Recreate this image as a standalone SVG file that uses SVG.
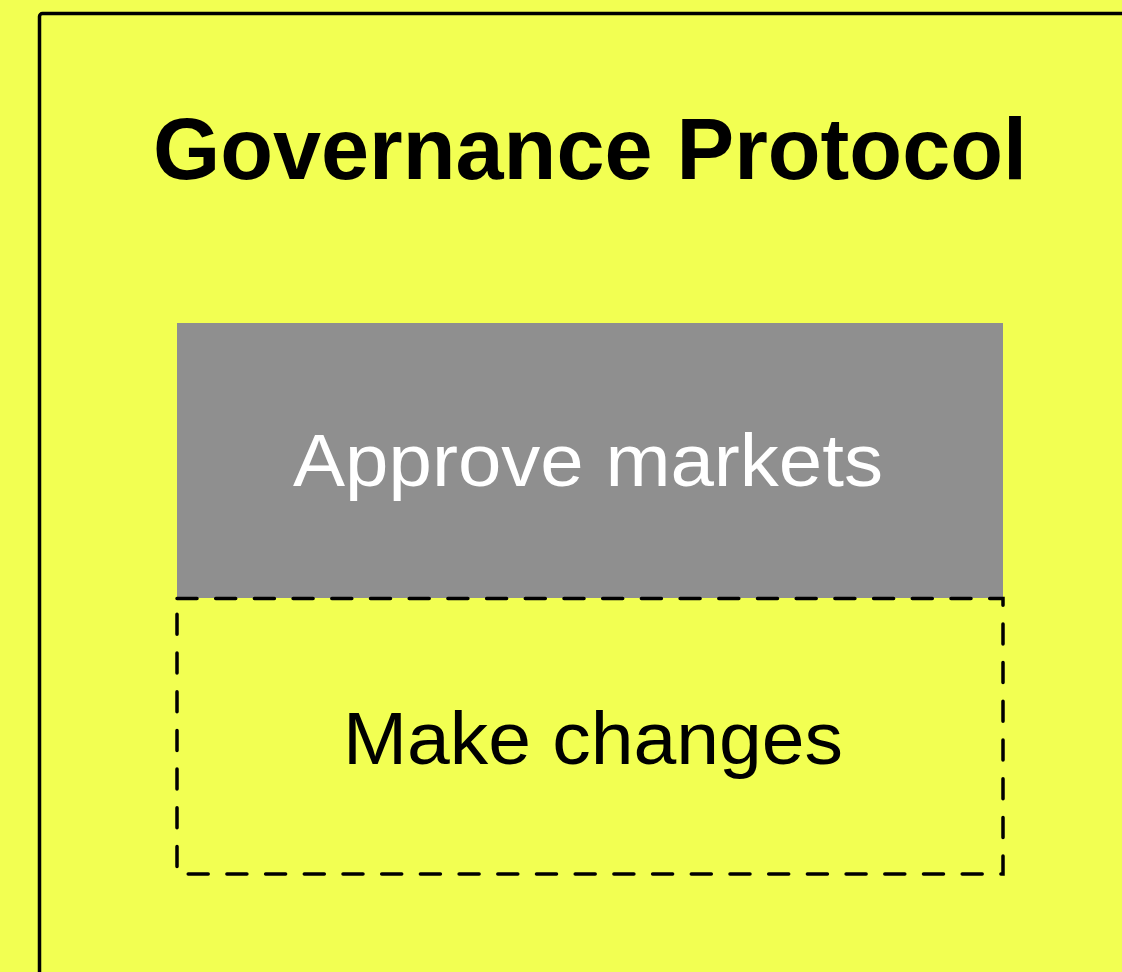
<svg xmlns="http://www.w3.org/2000/svg" width="1122" height="972" viewBox="0 0 1122 972">
  <style>
    .title { font-family: "Liberation Sans", Arial, sans-serif; font-weight: bold; font-size: 87px; fill: #000; }
    .label { font-family: "Liberation Sans", Arial, sans-serif; font-size: 75px; }
  </style>
  <rect x="0" y="0" width="1122" height="972" fill="#f2ff52"/>
  <g id="governance-protocol">
    <rect x="39.5" y="13.5" width="1200" height="1100" rx="3" fill="#f2ff52" stroke="#000" stroke-width="3.5"/>
    <text class="title" x="590" y="179" text-anchor="middle" textLength="874" lengthAdjust="spacingAndGlyphs">Governance Protocol</text>
  </g>
  <g id="approve-markets">
    <rect x="177" y="323" width="826" height="275" fill="#8f8f8f"/>
    <text class="label" x="588" y="486" text-anchor="middle" fill="#fff" textLength="590" lengthAdjust="spacingAndGlyphs">Approve markets</text>
  </g>
  <g id="make-changes">
    <rect x="177" y="598.5" width="826" height="275.5" fill="none" stroke="#000" stroke-width="3.5" stroke-dasharray="20 18.7" stroke-linecap="round"/>
    <text class="label" x="593" y="764" text-anchor="middle" fill="#000" textLength="500" lengthAdjust="spacingAndGlyphs">Make changes</text>
  </g>
  <g id="connectors"/>
</svg>
